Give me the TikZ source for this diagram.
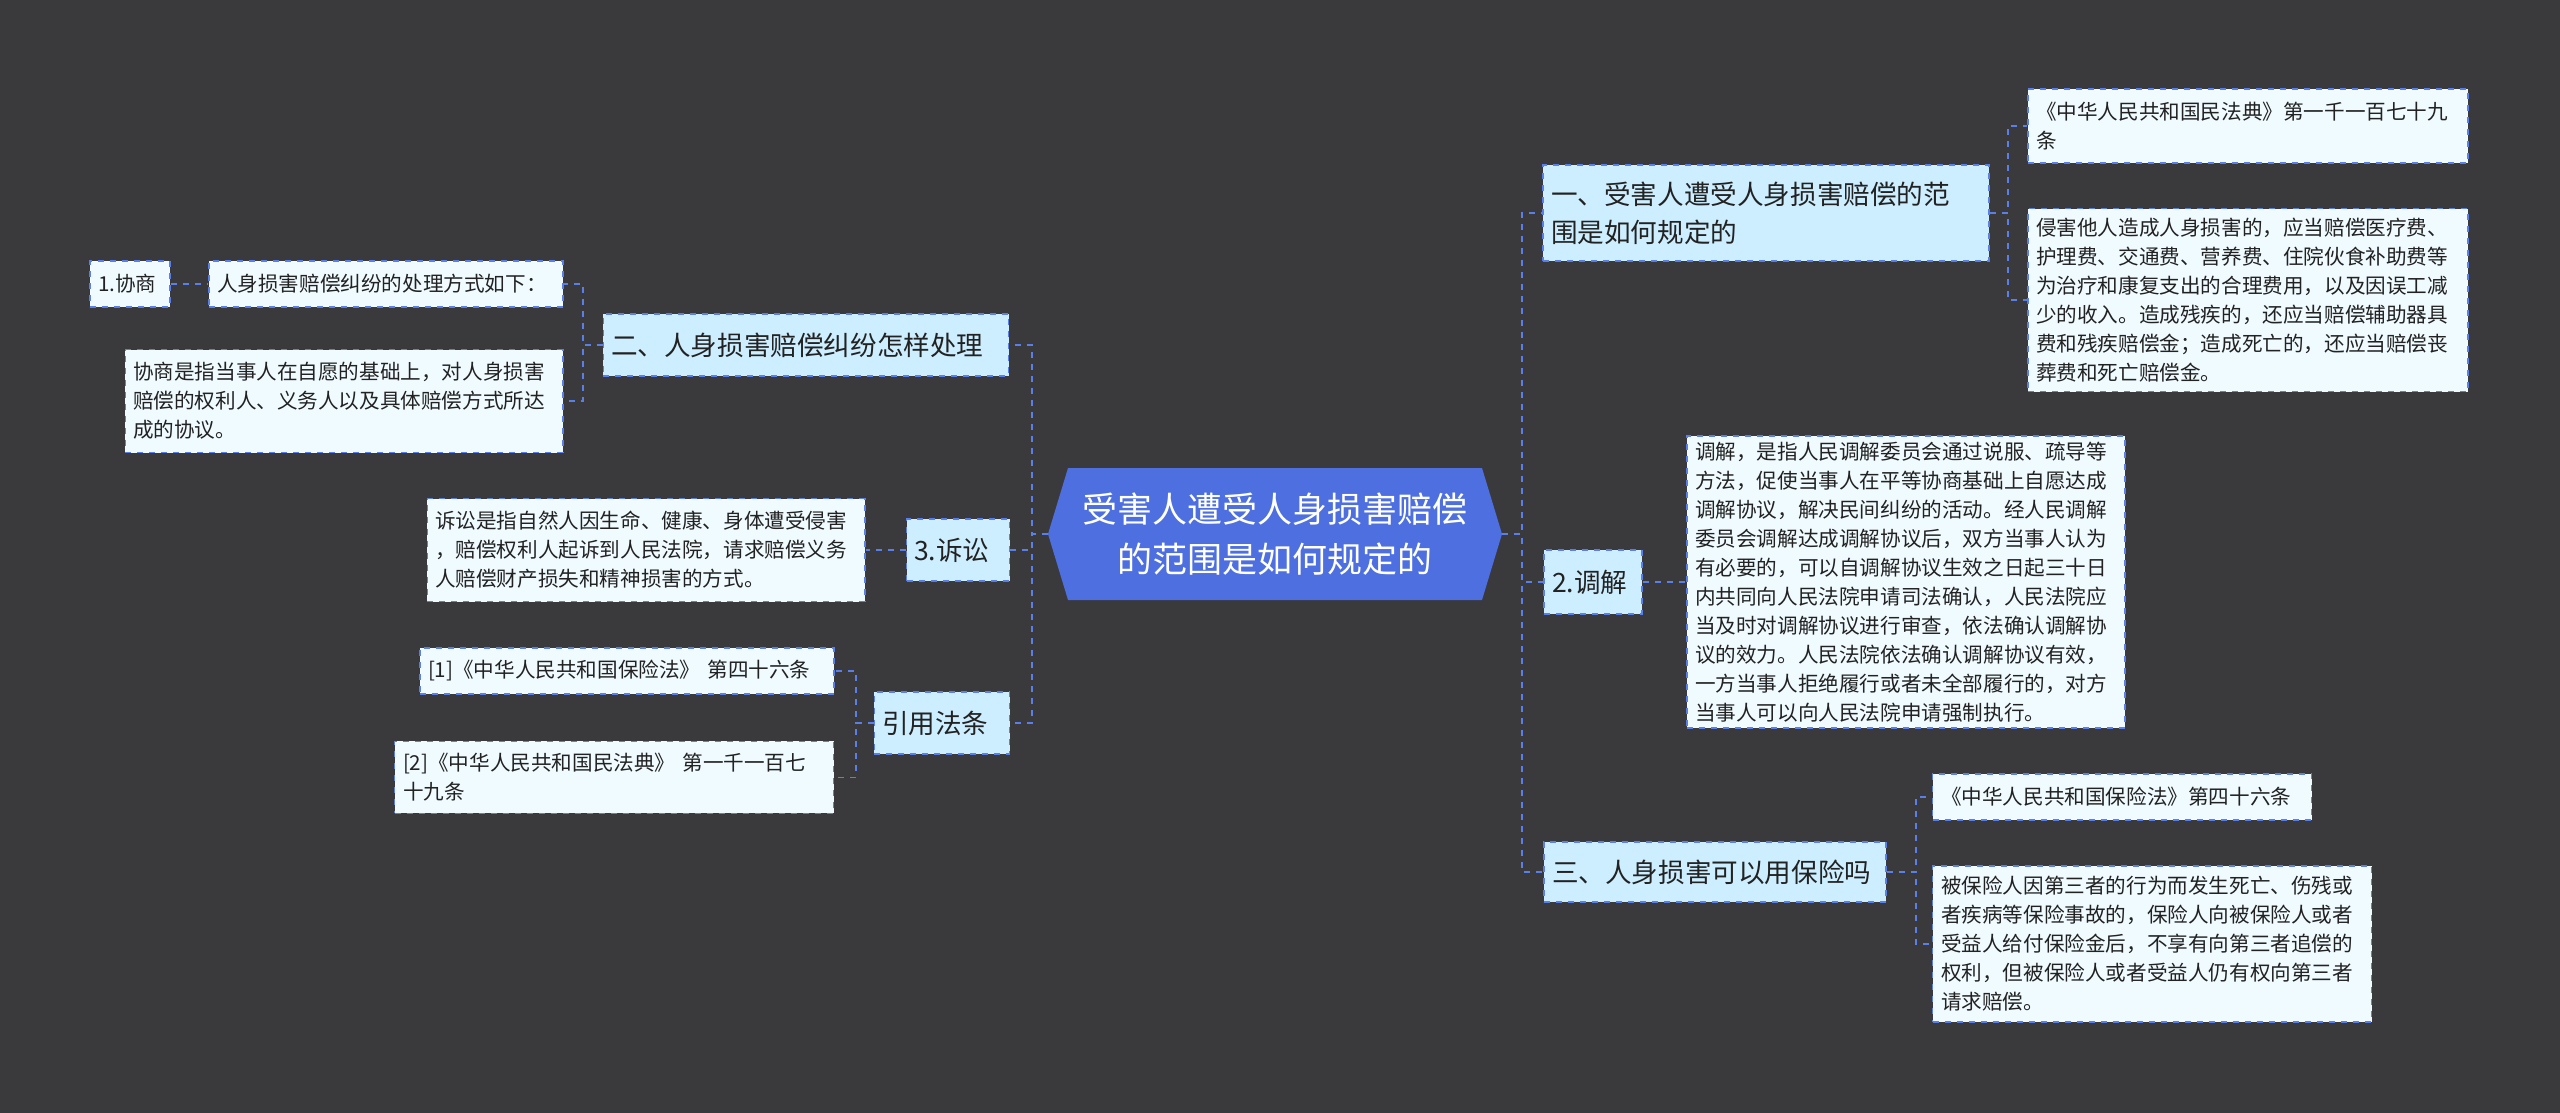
\documentclass[tikz,border=0pt]{standalone}
\usepackage{fontspec}
\setmainfont{Noto Sans CJK SC}
\definecolor{bg}{HTML}{3A393B}
\definecolor{ln}{HTML}{5B7FE8}
\definecolor{hub}{HTML}{4D6FE0}
\definecolor{br}{HTML}{CDEEFF}
\definecolor{lf}{HTML}{F0FBFF}
\definecolor{tx}{HTML}{222222}
\tikzset{
 base/.style={draw=ln, dashed, line width=0.8pt, inner sep=3pt, text=tx, anchor=center},
 leaf/.style={base, fill=lf, align=left, font=\fontsize{10.3}{14.5}\selectfont},
 branch/.style={base, fill=br, align=left, font=\fontsize{13.3}{19}\selectfont},
 conn/.style={draw=ln, dashed, line width=0.8pt},
}
\newcommand{\bx}[7]{\node[#1, minimum width=#4pt, minimum height=#5pt, text width=#6pt] (#7) at (#2,#3) {\ignorespaces};}
\begin{document}
\begin{tikzpicture}[x=1pt,y=-1pt]
\useasboundingbox[fill=bg] (0,0) rectangle (1280,556.5);
% hub
\fill[hub] (524,267) -- (534,234) -- (741,234) -- (751,267) -- (741,300) -- (534,300) -- cycle;
\node[text=white, align=center, font=\fontsize{17.5}{25}\selectfont] (c) at (637.5,267) {受害人遭受人身损害赔偿\\的范围是如何规定的};
\coordinate (cE) at (751,267);
\coordinate (cW) at (524,267);
% right
\node[branch, minimum width=223pt, minimum height=48pt, text width=215pt] (r1) at (883,106.5) {一、受害人遭受人身损害赔偿的范\\围是如何规定的};
\node[leaf, minimum width=220pt, minimum height=37pt, text width=212pt] (r1a) at (1124,63) {《中华人民共和国民法典》第一千一百七十九\\条};
\node[leaf, minimum width=220pt, minimum height=91.5pt, text width=212pt] (r1b) at (1124,150) {侵害他人造成人身损害的，应当赔偿医疗费、\\护理费、交通费、营养费、住院伙食补助费等\\为治疗和康复支出的合理费用，以及因误工减\\少的收入。造成残疾的，还应当赔偿辅助器具\\费和残疾赔偿金；造成死亡的，还应当赔偿丧\\葬费和死亡赔偿金。};
\node[branch, minimum width=49pt, minimum height=32pt, text width=41pt] (r2) at (796.5,291) {2.调解};
\node[leaf, minimum width=219pt, minimum height=144pt, text width=211pt] (r2a) at (953,291) {调解，是指人民调解委员会通过说服、疏导等\\方法，促使当事人在平等协商基础上自愿达成\\调解协议，解决民间纠纷的活动。经人民调解\\委员会调解达成调解协议后，双方当事人认为\\有必要的，可以自调解协议生效之日起三十日\\内共同向人民法院申请司法确认，人民法院应\\当及时对调解协议进行审查，依法确认调解协\\议的效力。人民法院依法确认调解协议有效，\\一方当事人拒绝履行或者未全部履行的，对方\\当事人可以向人民法院申请强制执行。};
\node[branch, minimum width=171pt, minimum height=30pt, text width=163pt] (r3) at (857.5,436) {三、人身损害可以用保险吗};
\node[leaf, minimum width=189.5pt, minimum height=23pt, text width=181pt] (r3a) at (1061,398.5) {《中华人民共和国保险法》第四十六条};
\node[leaf, minimum width=219.5pt, minimum height=78pt, text width=211pt] (r3b) at (1076,472) {被保险人因第三者的行为而发生死亡、伤残或\\者疾病等保险事故的，保险人向被保险人或者\\受益人给付保险金后，不享有向第三者追偿的\\权利，但被保险人或者受益人仍有权向第三者\\请求赔偿。};
% left
\node[branch, minimum width=202.6pt, minimum height=31pt, text width=195pt] (l1) at (403,172.5) {二、人身损害赔偿纠纷怎样处理};
\node[leaf, minimum width=177pt, minimum height=23pt, text width=169pt] (l1a) at (193,142) {人身损害赔偿纠纷的处理方式如下：};
\node[leaf, minimum width=40pt, minimum height=23pt, text width=32pt] (l1a0) at (65,142) {1.协商};
\node[leaf, minimum width=218.7pt, minimum height=51.5pt, text width=211pt] (l1b) at (172,200.5) {协商是指当事人在自愿的基础上，对人身损害\\赔偿的权利人、义务人以及具体赔偿方式所达\\成的协议。};
\node[branch, minimum width=51.5pt, minimum height=31pt, text width=44pt] (l2) at (479,275) {3.诉讼};
\node[leaf, minimum width=218.7pt, minimum height=51.5pt, text width=211pt] (l2a) at (323,275) {诉讼是指自然人因生命、健康、身体遭受侵害\\，赔偿权利人起诉到人民法院，请求赔偿义务\\人赔偿财产损失和精神损害的方式。};
\node[branch, minimum width=67.6pt, minimum height=31pt, text width=60pt] (l3) at (471,361.5) {引用法条};
\node[leaf, minimum width=207pt, minimum height=23pt, text width=199pt] (l3a) at (313.5,335.5) {[1]《中华人民共和国保险法》 第四十六条};
\node[leaf, minimum width=219.5pt, minimum height=36pt, text width=211pt] (l3b) at (307,388.7) {[2]《中华人民共和国民法典》 第一千一百七\\十九条};
% connectors
\foreach \t in {r1,r2,r3} \draw[conn] (cE) -- (761,267) |- (\t.west);
\foreach \t in {l1,l2,l3} \draw[conn] (cW) -- (516,267) |- (\t.east);
\foreach \t in {r1a,r1b} \draw[conn] (r1.east) -- (1004,106.5) |- (\t.west);
\draw[conn] (r2.east) -- (r2a.west);
\foreach \t in {r3a,r3b} \draw[conn] (r3.east) -- (958,436) |- (\t.west);
\foreach \t in {l1a,l1b} \draw[conn] (l1.west) -- (291.5,172.5) |- (\t.east);
\draw[conn] (l1a0.east) -- (l1a.west);
\draw[conn] (l2.west) -- (l2a.east);
\foreach \t in {l3a,l3b} \draw[conn] (l3.west) -- (428,361.5) |- (\t.east);
\end{tikzpicture}
\end{document}
